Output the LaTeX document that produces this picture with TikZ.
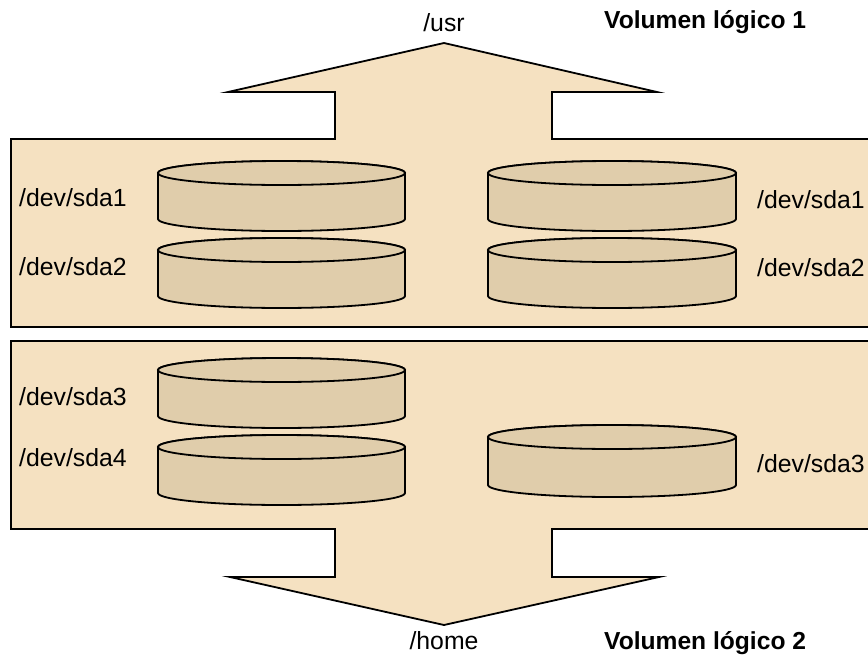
\documentclass[tikz,border=0pt]{standalone}
\usepackage{fontspec}
\setmainfont{Liberation Sans}
\definecolor{panel}{HTML}{F5E1C1}
\definecolor{disk}{HTML}{E0CDAB}
\newcommand{\diskcyl}[4]{% x1, x2, ytop-center, ybottom-center
  \pgfmathsetmacro{\cxx}{(#1+#2)/2}\pgfmathsetmacro{\rxx}{(#2-#1)/2}
  \filldraw[cylline] (#1,#3) -- (#1,#4) arc[start angle=180,end angle=0,x radius=\rxx,y radius=12] -- (#2,#3) arc[start angle=0,end angle=-180,x radius=\rxx,y radius=12] -- cycle;
  \draw[cylline] (\cxx,#3) ellipse[x radius=\rxx,y radius=12];
}
\begin{document}
\begin{tikzpicture}[x=1pt,y=-1pt,
  panelline/.style={draw=black,fill=panel,line width=1.8pt,line join=miter},
  cylline/.style={draw=black,fill=disk,line width=1.8pt},
  lbl/.style={font=\fontsize{24.8}{28}\selectfont,inner sep=0pt,anchor=base west},
  clbl/.style={font=\fontsize{24.8}{28}\selectfont,inner sep=0pt,anchor=base},
  vlbl/.style={font=\fontsize{24.6}{28}\selectfont\bfseries,inner sep=0pt,anchor=base west}]
\useasboundingbox (0,0) rectangle (868,659);
\begin{scope}
\clip (0,0) rectangle (868,659);
\draw[panelline] (11,139) -- (335,139) -- (335,92) -- (228,92) -- (444,43) -- (657,92) -- (552,92) -- (552,139) -- (880,139) -- (880,327) -- (11,327) -- cycle;
\draw[panelline] (11,341) -- (880,341) -- (880,529) -- (552,529) -- (552,577) -- (659,577) -- (444,625) -- (230,577) -- (335,577) -- (335,529) -- (11,529) -- cycle;
\end{scope}
\diskcyl{158}{405}{173}{219}
\diskcyl{158}{405}{250}{296}
\diskcyl{488}{736}{173}{219}
\diskcyl{488}{736}{250}{296}
\diskcyl{158}{405}{370}{416}
\diskcyl{158}{405}{447}{493}
\diskcyl{488}{736}{437}{485}
\node[clbl] (usr) at (444,31) {/usr};
\node[clbl] (home) at (444,649) {/home};
\node[vlbl] (v1) at (604,28) {Volumen lógico 1};
\node[vlbl] (v2) at (604,649) {Volumen lógico 2};
\node[lbl] (l1) at (19,206) {/dev/sda1};
\node[lbl] (l2) at (19,275) {/dev/sda2};
\node[lbl] (l3) at (19,405) {/dev/sda3};
\node[lbl] (l4) at (19,466) {/dev/sda4};
\node[lbl] (r1) at (757,208) {/dev/sda1};
\node[lbl] (r2) at (757,276) {/dev/sda2};
\node[lbl] (r3) at (757,472) {/dev/sda3};
\end{tikzpicture}
\end{document}
